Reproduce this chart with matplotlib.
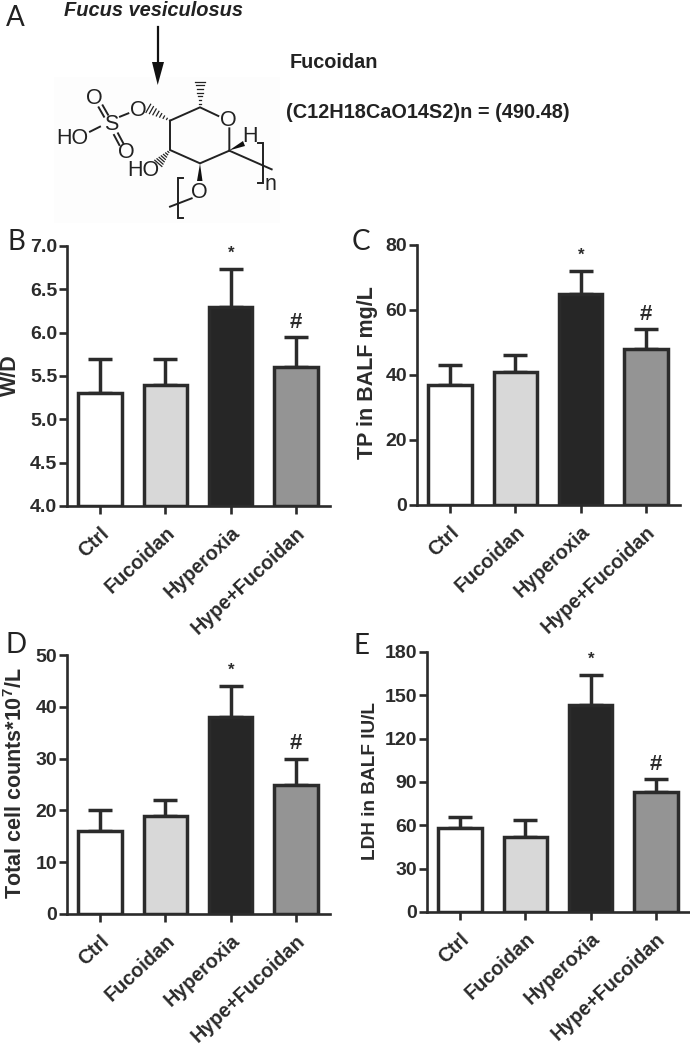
import matplotlib
matplotlib.use("Agg")
import matplotlib.pyplot as plt
from matplotlib.patches import Polygon, Rectangle

plt.rcParams['font.family'] = ['Liberation Sans', 'DejaVu Sans']
plt.rcParams['font.weight'] = 'bold'
plt.rcParams['mathtext.fontset'] = 'custom'
plt.rcParams['mathtext.bf'] = 'Liberation Sans:bold'

W, H = 690, 1046
INK = '#2b2b2b'

groups = ['Ctrl', 'Fucoidan', 'Hyperoxia', 'Hype+Fucoidan']
fills = ['#ffffff', '#d8d8d8', '#262626', '#949494']

wd_vals = [5.3, 5.4, 6.3, 5.6]
wd_err = [0.4, 0.3, 0.43, 0.35]
wd_ticks = [4.0, 4.5, 5.0, 5.5, 6.0, 6.5, 7.0]

tp_vals = [37, 41, 65, 48]
tp_err = [6, 5, 7, 6]
tp_ticks = [0, 20, 40, 60, 80]

cell_vals = [16, 19, 38, 25]
cell_err = [4, 3, 6, 5]
cell_ticks = [0, 10, 20, 30, 40, 50]

ldh_vals = [58, 52, 143, 83]
ldh_err = [8, 12, 21, 9]
ldh_ticks = [0, 30, 60, 90, 120, 150, 180]


def bars(box, vals, err, ticks, ylabel, labelx, labely, fmt='%d', labelsize=15.5):
    # box is left, top, right, bottom in pixels
    l, t, r, b = box
    ax = fig.add_axes([l / W, 1 - b / H, (r - l) / W, (b - t) / H])
    ax.patch.set_alpha(0)
    xs = range(len(vals))
    base = ticks[0]
    ax.errorbar(xs, vals, yerr=[[0] * 4, err], fmt='none', ecolor=INK, elinewidth=2.5,
                capsize=8.5, capthick=2.5, zorder=2)
    ax.bar(xs, [v - base for v in vals], bottom=base, width=0.665, color=fills,
           edgecolor=INK, linewidth=2.5, zorder=3)
    ax.set_xlim(-0.505, 3.52)
    ax.set_ylim(ticks[0], ticks[-1])
    ax.set_yticks(ticks)
    ax.set_yticklabels([fmt % v for v in ticks], fontsize=14, color=INK)
    ax.set_xticks(list(xs))
    ax.set_xticklabels(groups, rotation=43, ha='right', va='top', rotation_mode='anchor',
                       fontsize=14.2, color=INK)
    for s in ['top', 'right']:
        ax.spines[s].set_visible(False)
    for s in ['left', 'bottom']:
        ax.spines[s].set_linewidth(1.9)
        ax.spines[s].set_color(INK)
    ax.spines['bottom'].set_zorder(5)
    ax.tick_params(axis='y', length=5.5, width=1.9, color=INK, pad=1.5)
    ax.tick_params(axis='x', length=6, width=1.9, color=INK, pad=6.5)
    ax.set_ylabel(ylabel, fontsize=labelsize, fontweight='bold', color=INK)
    ax.yaxis.set_label_coords(labelx / W, 1 - labely / H, transform=fig.transFigure)
    ax.annotate('*', (2, vals[2] + err[2]), xytext=(0, 6), textcoords='offset points',
                ha='center', va='bottom', fontsize=12, color=INK, annotation_clip=False)
    ax.annotate('#', (3, vals[3] + err[3]), xytext=(0, 3), textcoords='offset points',
                ha='center', va='bottom', fontsize=16, color=INK, annotation_clip=False)
    return ax


fig = plt.figure(figsize=(W / 100, H / 100), dpi=100)

bars((67, 246, 330, 506), wd_vals, wd_err, wd_ticks, 'W/D', 21, 375, fmt='%.1f')
bars((417, 245, 680, 505), tp_vals, tp_err, tp_ticks, 'TP in BALF mg/L', 378, 373)
bars((67, 655, 330, 914), cell_vals, cell_err, cell_ticks,
     r'Total cell counts*10$\mathbf{^7}$/L', 27, 783)
bars((427, 652, 690, 912), ldh_vals, ldh_err, ldh_ticks, 'LDH in BALF IU/L', 379, 781,
     labelsize=13.7)

# overlay in pixel coords for panel A and the letters
over = fig.add_axes([0, 0, 1, 1], zorder=-1)
over.set_xlim(0, W)
over.set_ylim(H, 0)
over.axis('off')

for letter, x, y in [('A', 6, 18), ('B', 7, 242), ('C', 352, 242), ('D', 6, 645), ('E', 353, 646)]:
    over.text(x, y, letter, fontsize=20, family='Lato', weight='normal', color='#222222',
              ha='left', va='center')

over.text(153, 11, 'Fucus vesiculosus', fontsize=14.4, style='italic', color='#222222',
          ha='center', va='center')
over.text(290, 62, 'Fucoidan', fontsize=14.3, color='#222222', ha='left', va='center')
over.text(286, 113, '(C12H18CaO14S2)n = (490.48)', fontsize=14.3, color='#222222',
          ha='left', va='center')

# molecule, traced in 3x zoom coords
over.add_patch(Rectangle((54, 77), 226, 146, color='#fdfdfd', lw=0))
over.plot([157.5, 157.5], [27, 63], color='#111111', lw=1.6)
over.add_patch(Polygon([(152, 62), (164, 62), (157.7, 85)], color='#111111', lw=0))

sticks = [
    [(510, 362), (600, 322), (655, 348)],
    [(688, 385), (688, 452), (600, 490), (510, 450), (510, 362)],
    [(688, 452), (815, 508)],
    [(385, 340), (360, 350)],
    [(270, 395), (300, 380)],
    [(296, 322), (312, 350)],
    [(308, 316), (324, 344)],
    [(342, 405), (358, 435)],
    [(354, 400), (370, 430)],
    [(510, 620), (575, 595)],
    [(550, 535), (535, 535), (535, 655), (550, 655)],
    [(775, 430), (790, 430), (790, 550), (775, 550)],
]
for s in sticks:
    over.plot([p[0] / 3 for p in s], [p[1] / 3 for p in s], color='#222222', lw=1.4,
              solid_joinstyle='miter')

hashes = [((600, 322), (600, 245)), ((510, 362), (445, 325)), ((510, 450), (475, 490))]
for (x0, y0), (x1, y1) in hashes:
    n = 7
    dx, dy = x1 - x0, y1 - y0
    ln = (dx ** 2 + dy ** 2) ** 0.5
    for i in range(1, n + 1):
        f = i / n
        hw = 14 * f
        cx, cy = x0 + dx * f, y0 + dy * f
        over.plot([(cx - dy / ln * hw) / 3, (cx + dy / ln * hw) / 3],
                  [(cy + dx / ln * hw) / 3, (cy - dx / ln * hw) / 3], color='#222222', lw=0.9)

over.add_patch(Polygon([(200, 163.5), (197, 181), (202.5, 181)], color='#111111', lw=0))
over.add_patch(Polygon([(229, 150.5), (243, 141), (245, 146)], color='#111111', lw=0))

atoms = [('O', 94, 99), ('O', 138, 110), ('S', 111, 125), ('HO', 72, 139), ('O', 126, 153),
         ('O', 228.5, 121), ('H', 250, 137), ('HO', 143, 171), ('O', 199, 192), ('n', 271, 185)]
for a, x, y in atoms:
    over.text(x, y, a, fontsize=15.5, weight='normal', color='#222222', ha='center', va='center')

fig.savefig('out.png', dpi=100)
